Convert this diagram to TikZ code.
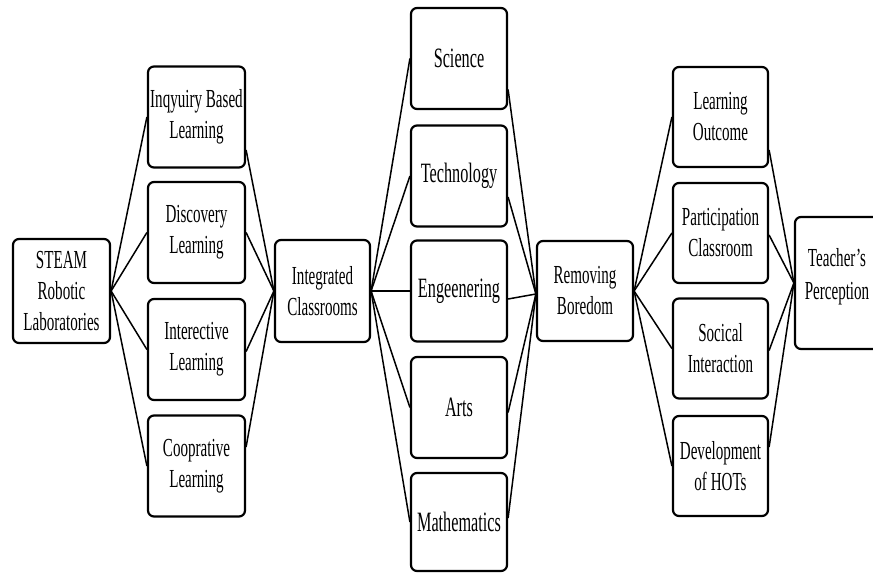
\documentclass[tikz,border=0pt]{standalone}
\usepackage{fontspec}
\setmainfont[FakeStretch=0.58]{Liberation Serif}
\usetikzlibrary{calc}
\begin{document}
\begin{tikzpicture}[x=1pt,y=-1pt,
  box/.style={draw, line width=2.2pt, rounded corners=6pt, align=center, inner sep=0pt,
    font=\fontsize{26pt}{31pt}\selectfont},
  conn/.style={line width=1.5pt}]
\fill[white] (0,0) rectangle (873,573);
\clip (0,0) rectangle (873,573);
\useasboundingbox (0,0) rectangle (873,573);
% column 1
\node[box, minimum width=97pt, minimum height=104pt] (steam) at (61.5,291) {STEAM\\Robotic\\Laboratories};
% column 2
\tikzset{c2/.style={box, minimum width=97pt, minimum height=101pt}}
\node[c2] (inq) at (196.5,117) {Inqyuiry Based\\Learning};
\node[c2] (dis) at (196.5,232.5) {Discovery\\Learning};
\node[c2] (int) at (196.5,349.5) {Interective\\Learning};
\node[c2] (coo) at (196.5,466) {Cooprative\\Learning};
% integrated
\node[box, minimum width=95pt, minimum height=102pt] (icl) at (322.5,291) {Integrated\\Classrooms};
% column 3
\tikzset{c3/.style={box, minimum width=96pt, minimum height=101pt, font=\fontsize{28pt}{33pt}\selectfont}}
\node[c3] (sci) at (459,58.5) {Science};
\node[c3] (tec) at (459,176) {Technology};
\node[c3] (eng) at (459,291) {Engeenering};
\node[c3] (art) at (459,407.5) {Arts};
\node[c3, minimum height=98pt] (mat) at (459,522) {Mathematics};
% removing
\node[box, minimum width=96pt, minimum height=100pt] (rem) at (585,291) {Removing\\Boredom};
% column 5
\tikzset{c5/.style={box, minimum width=95pt, minimum height=100pt}}
\node[c5] (lo) at (720.5,117) {Learning\\Outcome};
\node[c5] (pc) at (720.5,233) {Participation\\Classroom};
\node[c5] (si) at (720.5,348.5) {Socical\\Interaction};
\node[c5] (dh) at (720.5,466) {Development\\of HOTs};
% teacher
\node[box, minimum width=84pt, minimum height=132pt] (tp) at (837,283) {};
\node[align=center, inner sep=0pt, font=\fontsize{26pt}{33pt}\selectfont] (tpt) at (837,277) {Teacher’s\\Perception};
% connectors
\foreach \n in {inq,dis,int,coo} \draw[conn] (steam.east) -- (\n.west);
\draw[conn] ($(inq.east)+(0,33)$) -- (icl.west);
\draw[conn] (dis.east) -- (icl.west);
\draw[conn] ($(int.east)+(0,2)$) -- (icl.west);
\draw[conn] ($(coo.east)+(0,-19)$) -- (icl.west);
\foreach \n in {sci,tec,eng,art,mat} \draw[conn] (icl.east) -- (\n.west);
\draw[conn] ($(sci.east)+(0,31)$) -- ($(rem.west)+(0,3)$);
\draw[conn] ($(tec.east)+(0,21)$) -- ($(rem.west)+(0,3)$);
\draw[conn] ($(eng.east)+(0,8)$) -- ($(rem.west)+(0,3)$);
\draw[conn] ($(art.east)+(0,5)$) -- ($(rem.west)+(0,3)$);
\draw[conn] ($(mat.east)+(0,-4)$) -- ($(rem.west)+(0,3)$);
\foreach \n in {lo,pc,si,dh} \draw[conn] (rem.east) -- (\n.west);
\draw[conn] ($(lo.east)+(0,33)$) -- (tp.west);
\draw[conn] ($(pc.east)+(0,2)$) -- (tp.west);
\draw[conn] ($(si.east)+(0,2)$) -- (tp.west);
\draw[conn] ($(dh.east)+(0,-19)$) -- (tp.west);
\end{tikzpicture}
\end{document}
